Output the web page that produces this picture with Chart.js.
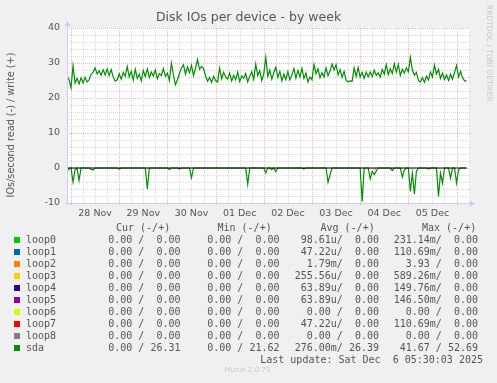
<!DOCTYPE html>
<html>
<head>
  <title>Disk IOs per device - by week</title>
  <script src="https://cdn.jsdelivr.net/npm/chart.js"></script>
  <style>
    body {
      margin: 0;
      background: #f0f0f0;
      width: 497px;
      height: 383px;
      overflow: hidden;
      position: relative;
      font-family: "DejaVu Sans", sans-serif;
    }
    #wrap {
      position: absolute;
      left: 0;
      top: 0;
      width: 497px;
      height: 223px;
    }
    .lg {
      position: absolute;
      font-family: "DejaVu Sans Mono", monospace;
      font-size: 10px;
      line-height: 12px;
      color: #555;
      white-space: pre;
    }
    .sw {
      position: absolute;
      width: 6px;
      height: 6px;
    }
    #munin {
      position: absolute;
      top: 366px;
      left: 0;
      width: 495px;
      text-align: center;
      font-size: 7px;
      color: #c8c8c8;
    }
  </style>
</head>
<body>
  <div id="wrap"><canvas id="chart"></canvas></div>
  <div id="legend"></div>
  <div id="munin">Munin 2.0.75</div>

  <script>
    // time axis: hours since 28 Nov 00:00, one sample per hour
    const startHour = -2;
    const dayLabels = ['28 Nov', '29 Nov', '30 Nov', '01 Dec', '02 Dec', '03 Dec', '04 Dec', '05 Dec'];

    // sda writes (+)
    const sdaWrite = [
      26.2, 25.3, 22.9, 29.2, 24.3, 25.6, 24.0, 25.8, 24.3, 25.9,
      24.6, 25.2, 26.8, 27.4, 28.6, 26.9, 27.8, 26.5, 28.1, 26.6,
      28.3, 26.4, 28.1, 26.0, 24.8, 25.2, 26.9, 25.4, 27.3, 26.2,
      29.0, 26.0, 27.6, 25.2, 28.2, 25.6, 26.8, 24.9, 27.9, 26.1,
      28.3, 25.8, 27.4, 26.3, 28.0, 25.5, 27.0, 26.4, 28.4, 26.2,
      27.1, 25.0, 30.0, 26.5, 23.8, 25.2, 27.0, 28.6, 29.5, 26.8,
      28.9, 27.2, 29.3, 26.4, 28.5, 31.0, 28.2, 29.0, 28.4, 26.3,
      24.8, 25.9, 24.5, 26.2, 25.0, 24.6, 28.6, 25.5, 27.3, 26.1,
      25.4, 27.1, 24.9, 26.5, 25.2, 27.4, 24.7, 26.3, 25.6, 27.0,
      24.6, 26.2, 27.5, 25.3, 29.7, 26.4, 27.8, 25.0, 26.9, 31.6,
      26.2, 28.0, 25.4, 27.3, 28.8, 25.9, 27.6, 24.9, 26.8, 25.3,
      27.5, 25.2, 26.6, 28.4, 25.7, 27.9, 26.0, 28.5, 25.6, 27.1,
      24.6, 26.0, 25.2, 29.6, 27.0, 28.3, 25.8, 27.2, 26.0, 28.6,
      26.4, 27.7, 29.7, 28.0, 29.5, 26.6, 28.1, 25.9, 27.6, 25.1,
      24.6, 24.9, 24.8, 28.6, 26.2, 28.7, 26.0, 27.3, 25.6, 27.4,
      26.1, 27.4, 26.1, 27.9, 26.5, 27.2, 26.0, 28.2, 26.8, 29.5,
      26.7, 28.3, 27.0, 29.8, 27.4, 29.6, 26.5, 28.2, 27.1, 28.6,
      27.5, 31.6, 28.0, 26.5, 27.3, 25.0, 24.6, 25.8, 24.5, 26.3,
      25.2, 27.4, 26.0, 29.4, 26.8, 28.2, 25.6, 27.1, 25.3, 26.6,
      25.0, 26.8, 25.4, 27.3, 29.3, 26.0, 27.6, 25.8, 24.9, 24.9
    ];

    // sda reads (-), drawn below zero
    const sdaRead = [
      -0.8, -0.3, 0, -4.0, -0.5, 0, -3.5, 0, 0, 0,
      0, 0, -0.4, -0.6, 0, 0, 0, 0, 0, 0,
      0, 0, 0, 0, 0, 0, -0.3, 0, 0, 0,
      0, 0, 0, 0, 0, 0, 0, 0, 0, 0,
      -6.0, 0, 0, 0, 0, 0, 0, 0, 0, 0,
      0, -0.4, 0, 0, 0, 0, -0.3, 0, 0, 0,
      0, 0, -2.8, 0, 0, 0, 0, 0, 0, 0,
      0, 0, 0, 0, 0, 0, 0, 0, 0, 0,
      0, 0, 0, 0, 0, 0, 0, 0, 0, 0,
      -4.6, 0, 0, 0, 0, 0, 0, 0, 0, -1.4,
      0, 0, -0.5, 0, -1.0, 0, 0, 0, 0, 0,
      0, 0, 0, 0, 0, 0, 0, 0, -0.3, 0,
      0, 0, 0, 0, 0, 0, 0, 0, 0, 0,
      -4.1, -2.0, 0, 0, 0, 0, 0, 0, 0, 0,
      0, 0, 0, 0, 0, 0, 0, -9.6, 0, 0,
      0, -3.1, -1.0, -1.9, -0.9, 0, 0, 0, 0, 0,
      0, 0, -0.7, 0, 0, 0, 0, -2.6, -0.6, 0,
      0, -6.7, -1.5, -7.5, -1.0, 0, 0, 0, 0, 0,
      -0.3, 0, 0, 0, 0, -8.1, -1.5, -4.3, 0, 0,
      0, -2.9, 0, 0, -4.3, -0.5, 0, 0, 0, 0
    ];

    // loop2 reads: one small blip
    const loop2Hours = [151, 152, 153];
    const loop2Read = [0, -0.6, 0];

    // legend table
    const legendNames = ['loop0', 'loop1', 'loop2', 'loop3', 'loop4', 'loop5', 'loop6', 'loop7', 'loop8', 'sda'];
    const legendColors = ['#00cc00', '#0066b3', '#ff8000', '#ffcc00', '#330099', '#990099', '#ccff00', '#ff0000', '#808080', '#008f00'];
    const curVals = ['0.00 /  0.00', '0.00 /  0.00', '0.00 /  0.00', '0.00 /  0.00', '0.00 /  0.00', '0.00 /  0.00', '0.00 /  0.00', '0.00 /  0.00', '0.00 /  0.00', '0.00 / 26.31'];
    const minVals = ['0.00 /  0.00', '0.00 /  0.00', '0.00 /  0.00', '0.00 /  0.00', '0.00 /  0.00', '0.00 /  0.00', '0.00 /  0.00', '0.00 /  0.00', '0.00 /  0.00', '0.00 / 21.62'];
    const avgVals = ['98.61u/  0.00', '47.22u/  0.00', '1.79m/  0.00', '255.56u/  0.00', '63.89u/  0.00', '63.89u/  0.00', '0.00 /  0.00', '47.22u/  0.00', '0.00 /  0.00', '276.00m/ 26.39'];
    const maxVals = ['231.14m/  0.00', '110.69m/  0.00', '3.93 /  0.00', '589.26m/  0.00', '149.76m/  0.00', '146.50m/  0.00', '0.00 /  0.00', '110.69m/  0.00', '0.00 /  0.00', '41.67 / 52.69'];
    const lastUpdate = 'Last update: Sat Dec  6 05:30:03 2025';

    const sdaWritePts = sdaWrite.map((v, i) => ({ x: startHour + i, y: v }));
    const sdaReadPts = sdaRead.map((v, i) => ({ x: startHour + i, y: v }));
    const loop2Pts = loop2Read.map((v, i) => ({ x: loop2Hours[i], y: v }));
    const firstHour = startHour;
    const lastHour = startHour + sdaWrite.length - 1;

    const minorColor = '#dadada';
    const majorColor = '#f2b4b4';
    const axisColor = '#c8cff5';

    // white plot area, munin style dotted grid, axes with arrows
    const munGrid = {
      id: 'munGrid',
      beforeDatasetsDraw(chart) {
        const { ctx, chartArea: a, scales: { x, y } } = chart;
        ctx.save();
        ctx.fillStyle = '#fff';
        ctx.fillRect(a.left, a.top, a.right - a.left, a.bottom - a.top);
        ctx.lineWidth = 1;
        ctx.setLineDash([1, 1]);
        for (let v = -8; v <= 40; v += 2) {
          const py = Math.round(y.getPixelForValue(v)) + 0.5;
          ctx.strokeStyle = v % 10 === 0 ? majorColor : minorColor;
          ctx.beginPath();
          ctx.moveTo(a.left, py);
          ctx.lineTo(a.right, py);
          ctx.stroke();
        }
        for (let h = 0; h <= x.max; h += 6) {
          const px = Math.round(x.getPixelForValue(h)) + 0.5;
          ctx.strokeStyle = h % 24 === 0 ? majorColor : minorColor;
          ctx.beginPath();
          ctx.moveTo(px, a.top);
          ctx.lineTo(px, a.bottom + (h % 24 === 0 ? 3 : 0));
          ctx.stroke();
        }
        ctx.restore();
      },
      afterDatasetsDraw(chart) {
        const { ctx, chartArea: a } = chart;
        const l = Math.round(a.left) + 0.5;
        const b = Math.round(a.bottom) + 0.5;
        ctx.save();
        ctx.strokeStyle = axisColor;
        ctx.fillStyle = axisColor;
        ctx.lineWidth = 1;
        ctx.beginPath();
        ctx.moveTo(l, b + 2);
        ctx.lineTo(l, a.top - 4);
        ctx.moveTo(l - 2, b);
        ctx.lineTo(a.right + 2, b);
        ctx.stroke();
        ctx.beginPath();
        ctx.moveTo(l, a.top - 7);
        ctx.lineTo(l - 3, a.top - 2);
        ctx.lineTo(l + 3, a.top - 2);
        ctx.closePath();
        ctx.fill();
        ctx.beginPath();
        ctx.moveTo(a.right + 5, b);
        ctx.lineTo(a.right, b - 3);
        ctx.lineTo(a.right, b + 3);
        ctx.closePath();
        ctx.fill();
        ctx.restore();
      }
    };

    // rotated side texts
    const sideText = {
      id: 'sideText',
      afterDraw(chart) {
        const ctx = chart.ctx;
        ctx.save();
        ctx.fillStyle = '#555';
        ctx.font = '9.7px "DejaVu Sans"';
        ctx.textAlign = 'center';
        ctx.textBaseline = 'middle';
        ctx.translate(11, 125);
        ctx.rotate(-Math.PI / 2);
        ctx.fillText('IOs/second read (-) / write (+)', 0, 0);
        ctx.restore();

        ctx.save();
        ctx.fillStyle = '#c8c8c8';
        ctx.font = '7.5px "DejaVu Sans"';
        ctx.textAlign = 'left';
        ctx.textBaseline = 'middle';
        ctx.translate(488.5, 5);
        ctx.rotate(Math.PI / 2);
        ctx.fillText('RRDTOOL / TOBI OETIKER', 0, 0);
        ctx.restore();
      }
    };

    const tickFont = { family: 'DejaVu Sans', size: 9.5 };

    new Chart(document.getElementById('chart').getContext('2d'), {
      type: 'line',
      data: {
        datasets: [
          {
            label: 'sda read',
            data: sdaReadPts,
            borderColor: '#008f00',
            borderWidth: 1.2,
            pointRadius: 0,
            tension: 0,
            order: 3
          },
          {
            label: 'sda write',
            data: sdaWritePts,
            borderColor: '#008f00',
            borderWidth: 1.2,
            pointRadius: 0,
            tension: 0,
            order: 3
          },
          {
            label: 'loop2 read',
            data: loop2Pts,
            borderColor: '#ff8000',
            borderWidth: 1,
            pointRadius: 0,
            tension: 0,
            order: 2
          },
          {
            label: 'zero',
            data: [{ x: firstHour, y: 0 }, { x: lastHour, y: 0 }],
            borderColor: '#000',
            borderWidth: 1,
            pointRadius: 0,
            order: 1
          }
        ]
      },
      options: {
        animation: false,
        responsive: true,
        maintainAspectRatio: false,
        layout: { padding: 0 },
        plugins: {
          legend: { display: false },
          tooltip: { enabled: false },
          title: {
            display: true,
            text: 'Disk IOs per device - by week',
            color: '#555',
            font: { family: 'DejaVu Sans', size: 12.5, weight: 'normal' },
            padding: { top: 10.5, bottom: 2.5 }
          }
        },
        scales: {
          x: {
            type: 'linear',
            min: -2,
            max: 198.7,
            grid: { display: false, drawTicks: false },
            border: { display: false },
            afterBuildTicks: s => { s.ticks = dayLabels.map((_, i) => ({ value: 12 + 24 * i })); },
            afterFit: s => { s.height = 20; },
            ticks: {
              autoSkip: false,
              maxRotation: 0,
              padding: 5,
              color: '#555',
              font: tickFont,
              callback: (v, i) => dayLabels[i]
            }
          },
          y: {
            min: -10,
            max: 40,
            grid: { display: false, drawTicks: false },
            border: { display: false },
            afterBuildTicks: s => { s.ticks = [-10, 0, 10, 20, 30, 40].map(v => ({ value: v })); },
            afterFit: s => { s.width = 67; },
            ticks: { padding: 7, color: '#555', font: tickFont }
          },
          y2: {
            position: 'right',
            min: -10,
            max: 40,
            grid: { display: false, drawTicks: false },
            border: { display: false },
            ticks: { display: false },
            afterFit: s => { s.width = 27; }
          }
        }
      },
      plugins: [munGrid, sideText]
    });

    // legend rows below the chart
    const legend = document.getElementById('legend');
    function cell(text, css) {
      const d = document.createElement('div');
      d.className = 'lg';
      d.textContent = text;
      Object.assign(d.style, css);
      legend.appendChild(d);
    }
    cell('Cur (-/+)', { top: '221.5px', left: '116px' });
    cell('Min (-/+)', { top: '221.5px', left: '217.5px' });
    cell('Avg (-/+)', { top: '221.5px', left: '320.5px' });
    cell('Max (-/+)', { top: '221.5px', left: '422px' });
    legendNames.forEach((name, i) => {
      const top = 233.7 + 12 * i;
      const sw = document.createElement('div');
      sw.className = 'sw';
      sw.style.left = '14px';
      sw.style.top = (top + 3) + 'px';
      sw.style.background = legendColors[i];
      legend.appendChild(sw);
      cell(name, { top: top + 'px', left: '26px' });
      cell(curVals[i], { top: top + 'px', right: (497 - 180.5) + 'px' });
      cell(minVals[i], { top: top + 'px', right: (497 - 279.5) + 'px' });
      cell(avgVals[i], { top: top + 'px', right: (497 - 379) + 'px' });
      cell(maxVals[i], { top: top + 'px', right: (497 - 478) + 'px' });
    });
    cell(lastUpdate, { top: '353.7px', right: (497 - 483) + 'px' });
  </script>
</body>
</html>
